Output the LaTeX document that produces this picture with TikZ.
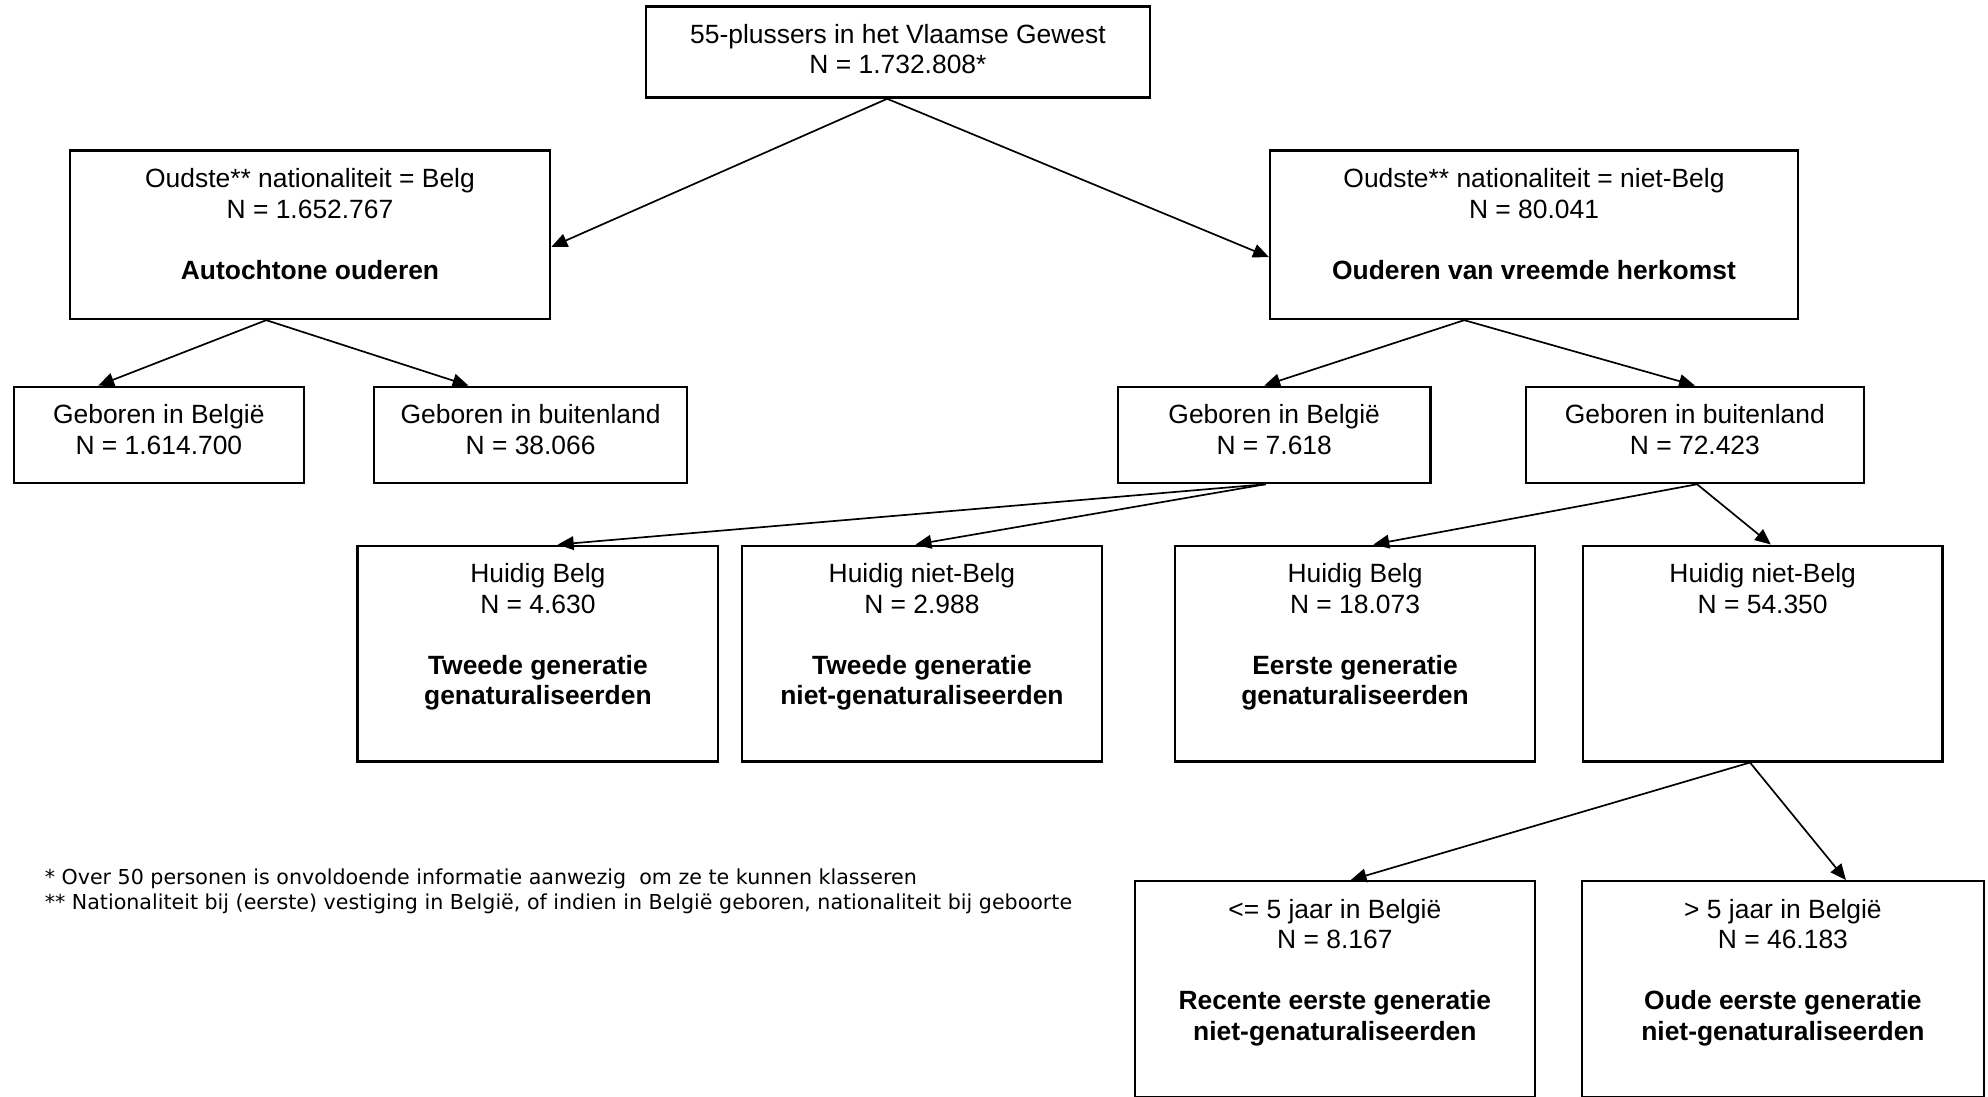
\documentclass[tikz,border=0pt]{standalone}
\usepackage{fontspec}
\setmainfont{Liberation Sans}
\newfontfamily\notefont{DejaVu Sans}
\usetikzlibrary{fit,calc,arrows.meta}
\begin{document}
\begin{tikzpicture}[x=0.6pt,y=-0.6pt,
  box/.style={draw, line width=1.1pt, inner sep=0pt},
  txt/.style={anchor=north, inner sep=0pt, align=center, font=\fontsize{12.5}{14.4}\selectfont},
  arr/.style={line width=0.8pt, -{Triangle[length=7.5pt,width=6.5pt]}}]
\path[use as bounding box] (0,0) rectangle (1568,865);

% boxes
\node[box, fit={(509.5,5) (907,77)}] (top) {};
\node[box, fit={(55,118.8) (434,251.6)}] (l1l) {};
\node[box, fit={(1001.7,118.8) (1418,251.6)}] (l1r) {};
\node[box, fit={(11,305) (239.6,381)}] (a) {};
\node[box, fit={(295,305) (542,381)}] (b) {};
\node[box, fit={(881.7,305) (1128.3,381)}] (c) {};
\node[box, fit={(1203.6,305) (1470,381)}] (d) {};
\node[box, fit={(282,430.4) (566.5,600.5)}] (e) {};
\node[box, fit={(585.3,430.4) (869,600.5)}] (f) {};
\node[box, fit={(927,430.4) (1210.5,600.5)}] (g) {};
\node[box, fit={(1248.5,430.4) (1532,600.5)}] (h) {};
\node[box, fit={(895,695) (1210.7,865)}] (i) {};
\node[box, fit={(1247.5,695) (1565,865)}] (j) {};

% texts
\node[txt] (top-t) at (708.25,5+12.3) {\rule{0pt}{10pt}55-plussers in het Vlaamse Gewest\\N = 1.732.808*};
\node[txt] (l1l-t) at (244.5,118.8+12.3) {\rule{0pt}{10pt}Oudste** nationaliteit = Belg\\N = 1.652.767\\[14.4pt]\textbf{Autochtone ouderen}};
\node[txt] (l1r-t) at (1209.9,118.8+12.3) {\rule{0pt}{10pt}Oudste** nationaliteit = niet-Belg\\N = 80.041\\[14.4pt]\textbf{Ouderen van vreemde herkomst}};
\node[txt] (a-t) at (125.3,305+12.3) {\rule{0pt}{10pt}Geboren in België\\N = 1.614.700};
\node[txt] (b-t) at (418.5,305+12.3) {\rule{0pt}{10pt}Geboren in buitenland\\N = 38.066};
\node[txt] (c-t) at (1005,305+12.3) {\rule{0pt}{10pt}Geboren in België\\N = 7.618};
\node[txt] (d-t) at (1336.8,305+12.3) {\rule{0pt}{10pt}Geboren in buitenland\\N = 72.423};
\node[txt] (e-t) at (424.25,430.4+12.3) {\rule{0pt}{10pt}Huidig Belg\\N = 4.630\\[14.4pt]\textbf{Tweede generatie}\\\textbf{genaturaliseerden}};
\node[txt] (f-t) at (727.15,430.4+12.3) {\rule{0pt}{10pt}Huidig niet-Belg\\N = 2.988\\[14.4pt]\textbf{Tweede generatie}\\\textbf{niet-genaturaliseerden}};
\node[txt] (g-t) at (1068.75,430.4+12.3) {\rule{0pt}{10pt}Huidig Belg\\N = 18.073\\[14.4pt]\textbf{Eerste generatie}\\\textbf{genaturaliseerden}};
\node[txt] (h-t) at (1390.25,430.4+12.3) {\rule{0pt}{10pt}Huidig niet-Belg\\N = 54.350};
\node[txt] (i-t) at (1052.85,695+12.3) {\rule{0pt}{10pt}<= 5 jaar in België\\N = 8.167\\[14.4pt]\textbf{Recente eerste generatie}\\\textbf{niet-genaturaliseerden}};
\node[txt] (j-t) at (1406.25,695+12.3) {\rule{0pt}{10pt}> 5 jaar in België\\N = 46.183\\[14.4pt]\textbf{Oude eerste generatie}\\\textbf{niet-genaturaliseerden}};

% footnotes
\node[anchor=north west, inner sep=0pt, align=left, font=\notefont\fontsize{9.75}{11.4}\selectfont] (note) at (35,697-11.7)
  {\rule{0pt}{7pt}* Over 50 personen is onvoldoende informatie aanwezig\ \ om ze te kunnen klasseren\\** Nationaliteit bij (eerste) vestiging in België, of indien in België geboren, nationaliteit bij geboorte};

% connectors
\draw[arr] ($(top.south)+(-8.5,0)$) -- ($(l1l.east)+(0,9.5)$);
\draw[arr] ($(top.south)+(-8.5,0)$) -- ($(l1r.west)+(0,17.5)$);
\draw[arr] ($(l1l.south)+(-34.5,0)$) -- ($(a.north)+(-47.8,0)$);
\draw[arr] ($(l1l.south)+(-34.5,0)$) -- ($(b.north)+(-49,0)$);
\draw[arr] ($(l1r.south)+(-55,0)$) -- ($(c.north)+(-7.8,0)$);
\draw[arr] ($(l1r.south)+(-55,0)$) -- (d.north);
\draw[arr] ($(c.south)+(-6.7,0)$) -- ($(e.north)+(15.75,0)$);
\draw[arr] ($(c.south)+(-6.7,0)$) -- ($(f.north)+(-5,0)$);
\draw[arr] ($(d.south)+(1.7,0)$) -- ($(g.north)+(14.5,0)$);
\draw[arr] ($(d.south)+(1.7,0)$) -- ($(h.north)+(6.5,0)$);
\draw[arr] ($(h.south)+(-10,0)$) -- ($(i.north)+(12.5,0)$);
\draw[arr] ($(h.south)+(-10,0)$) -- ($(j.north)+(49.7,0)$);
\end{tikzpicture}
\end{document}
